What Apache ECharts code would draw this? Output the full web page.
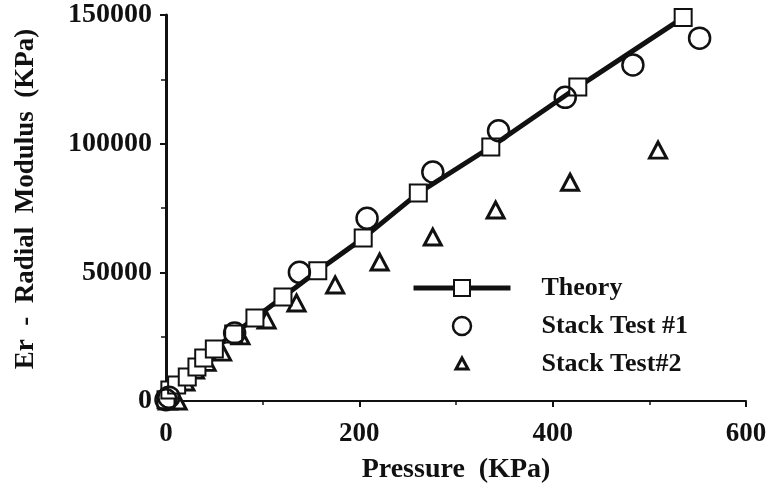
<!DOCTYPE html>
<html>
<head>
<meta charset="utf-8">
<script src="https://cdn.jsdelivr.net/npm/echarts@6/dist/echarts.min.js"></script>
<style>
  html, body { margin: 0; padding: 0; background: #fff; }
  #chart { width: 772px; height: 490px; }
</style>
</head>
<body>
<div id="chart"></div>
<script>
// Theory curve (squares on line)
const theoryX = [0, 4, 11, 22, 32, 39, 50, 70, 92, 121, 157, 204, 261, 336, 426, 535];
const theoryY = [500, 4300, 6200, 9300, 13200, 16700, 20200, 26000, 32300, 40400, 50600, 63300, 80800, 98700, 122000, 149000];

// Stack Test #1 (circles)
const test1X = [0, 3, 71, 138, 208, 276, 344, 413, 483, 552];
const test1Y = [500, 1500, 26400, 50000, 71000, 89000, 105000, 118000, 130600, 141000];

// Stack Test#2 (triangles)
const test2X = [2, 12, 20, 30, 42, 58, 77, 104, 135, 175, 221, 276, 341, 418, 509];
const test2Y = [0, 0, 7400, 12000, 15000, 19000, 25300, 31500, 38100, 45100, 54000, 63700, 74200, 85000, 97500];

const xTicks = [0, 200, 400, 600];
const yTicks = [0, 50000, 100000, 150000];

const font = '"Liberation Serif", "DejaVu Serif", serif';
const ink = '#111';

const pairs = (xs, ys) => xs.map((x, i) => [x, ys[i]]);

const chart = echarts.init(document.getElementById('chart'));

chart.setOption({
  backgroundColor: '#fff',
  animation: false,
  grid: { left: 166, right: 26, top: 15, bottom: 89 },
  legend: {
    orient: 'vertical',
    left: 406,
    top: 269,
    itemWidth: 97,
    itemHeight: 20,
    itemGap: 10,
    symbolKeepAspect: true,
    textStyle: {
      fontFamily: font,
      fontWeight: 'bold',
      fontSize: 26,
      color: ink,
      lineHeight: 28,
      padding: [0, 0, 0, 26]
    },
    data: [
      { name: 'Theory', lineStyle: { width: 5, color: ink } },
      { name: 'Stack Test #1', icon: 'path://M0,0 M20,20 M10,1 A9,9 0 1 1 9.99,1 Z', itemStyle: { borderWidth: 2.5 } },
      { name: 'Stack Test#2', icon: 'path://M0,0 M20,20 M10,4 L16,15 L4,15 Z', itemStyle: { borderWidth: 3 } }
    ]
  },
  xAxis: {
    type: 'value',
    min: xTicks[0],
    max: xTicks[xTicks.length - 1],
    interval: xTicks[1] - xTicks[0],
    name: 'Pressure  (KPa)',
    nameLocation: 'middle',
    nameGap: 55,
    nameTextStyle: { fontFamily: font, fontWeight: 'bold', fontSize: 28, color: ink },
    axisLine: { onZero: false, lineStyle: { color: ink, width: 2 } },
    axisTick: { show: true, inside: false, length: 6, lineStyle: { color: ink, width: 2 } },
    minorTick: { show: true, splitNumber: 2, length: 4, lineStyle: { color: ink, width: 1.5 } },
    axisLabel: {
      margin: 20,
      fontFamily: font, fontWeight: 'bold', fontSize: 27, color: ink,
      formatter: v => String(v)
    },
    splitLine: { show: false }
  },
  yAxis: {
    type: 'value',
    min: yTicks[0],
    max: yTicks[yTicks.length - 1],
    interval: yTicks[1] - yTicks[0],
    name: 'Er  -  Radial  Modulus  (KPa)',
    nameLocation: 'middle',
    nameGap: 126,
    nameTextStyle: {
      fontFamily: font, fontWeight: 'bold', fontSize: 27, color: ink,
      padding: [0, 0, 0, 18]
    },
    axisLine: { onZero: false, lineStyle: { color: ink, width: 3 } },
    axisTick: { show: true, inside: false, length: 6, lineStyle: { color: ink, width: 2 } },
    minorTick: { show: true, splitNumber: 2, length: 5, lineStyle: { color: ink, width: 1.5 } },
    axisLabel: {
      margin: 14,
      fontFamily: font, fontWeight: 'bold', fontSize: 28, color: ink,
      formatter: v => String(v)
    },
    splitLine: { show: false }
  },
  series: [
    {
      name: 'Theory',
      type: 'line',
      data: pairs(theoryX, theoryY),
      symbol: 'rect',
      symbolSize: 17,
      showAllSymbol: true,
      lineStyle: { color: ink, width: 5 },
      itemStyle: { color: '#fff', borderColor: ink, borderWidth: 2 },
      z: 3
    },
    {
      name: 'Stack Test #1',
      type: 'scatter',
      data: pairs(test1X, test1Y),
      symbol: 'circle',
      symbolSize: 21,
      itemStyle: { color: 'rgba(255,255,255,0)', borderColor: ink, borderWidth: 2.5, opacity: 1 },
      z: 4
    },
    {
      name: 'Stack Test#2',
      type: 'scatter',
      data: pairs(test2X, test2Y),
      symbol: 'triangle',
      symbolSize: [17, 16],
      symbolKeepAspect: true,
      itemStyle: { color: '#fff', borderColor: ink, borderWidth: 3, opacity: 1 },
      z: 2
    }
  ]
});
</script>
</body>
</html>
